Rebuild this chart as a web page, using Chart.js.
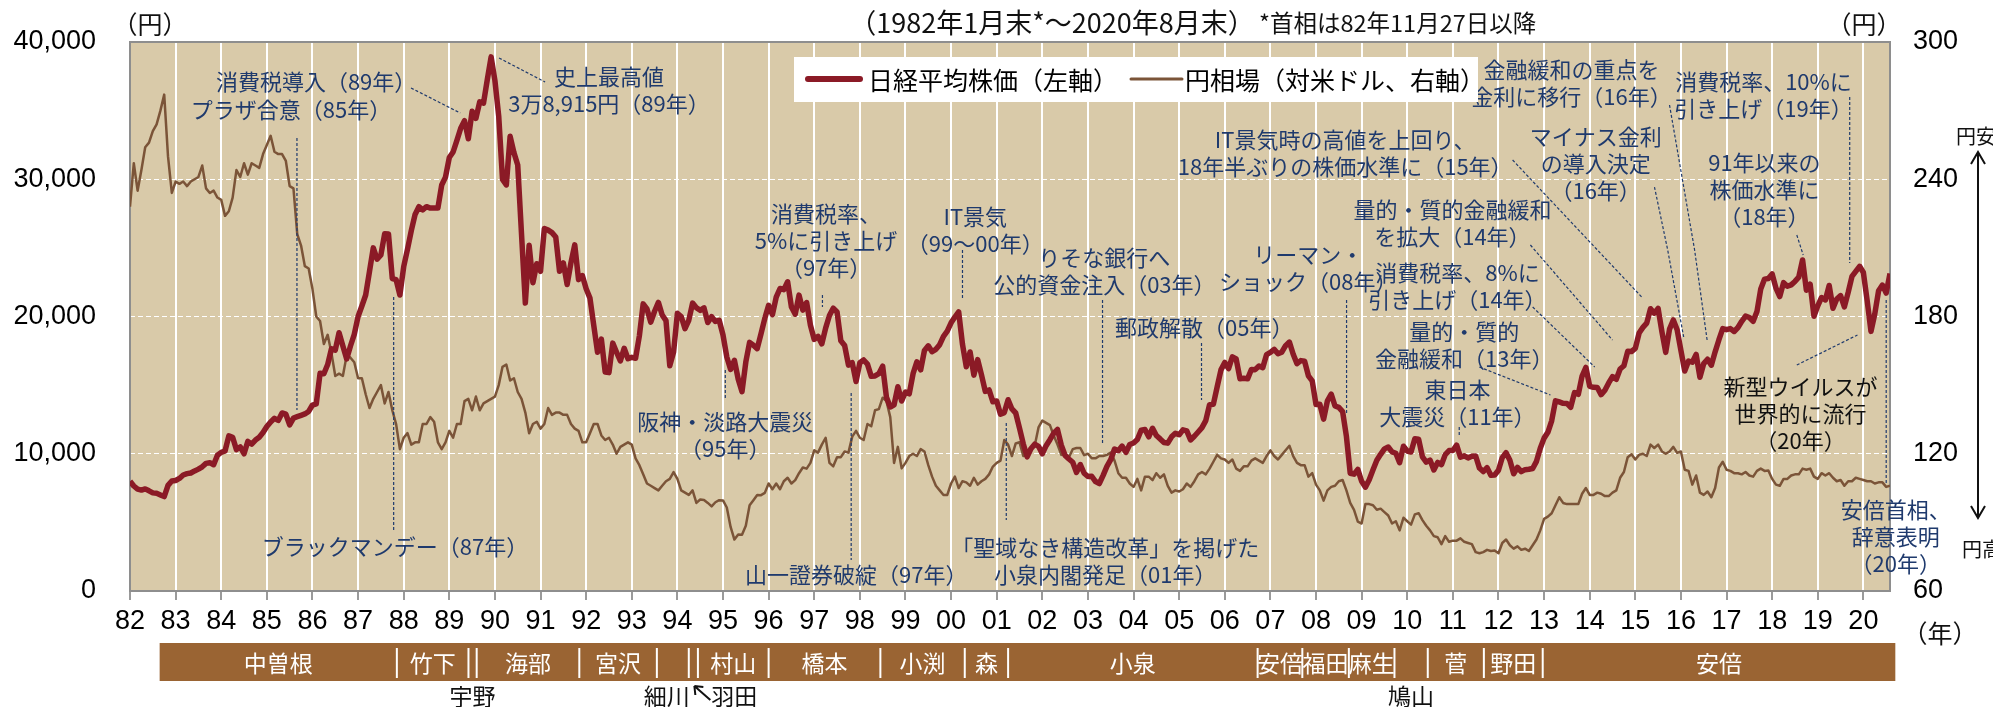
<!DOCTYPE html>
<html>
<head>
<meta charset="utf-8">
<script src="https://cdn.jsdelivr.net/npm/chart.js@4.4.0/dist/chart.umd.min.js"></script>
<style>
  html, body { margin: 0; padding: 0; background: #fff; }
  #wrap { width: 1993px; height: 707px; position: relative; }
</style>
</head>
<body>
<div id="wrap"><canvas id="grafico" width="1993" height="707"></canvas></div>
<script>
/* ── Dados (fim de mês, jan/1982 – ago/2020) ───────────────── */

const startYear = 1982;

// 日経平均株価（円）
const nikkei = [
  8000,7650,7420,7350,7440,7300,7150,7120,7000,6880,7700,8016,
  8050,8200,8450,8550,8600,8750,8880,9050,9300,9350,9200,9893,
  10100,10200,11300,11200,10300,10500,10000,10900,10700,11000,11200,11543,
  11990,12320,12580,12430,12970,12880,12100,12600,12700,12800,12900,13083,
  13550,13640,15860,15830,16500,17650,17550,18820,17850,16910,17850,18701,
  20000,20766,21566,23274,25000,24176,24488,26029,26010,22765,22687,21564,
  23622,24900,26260,27435,28000,27769,28000,27900,27900,27900,29579,30159,
  31581,31985,32838,33713,34266,32948,34954,34431,35636,35549,37268,38915,
  37188,34591,29980,29584,33130,31940,31035,25978,20984,25194,22454,23849,
  23293,26409,26292,26111,25790,23291,23900,22335,23916,25222,22687,22984,
  22023,21339,19346,17391,18348,15952,15910,18061,17399,16767,17683,16925,
  17024,16953,18591,20919,20552,19590,20380,21027,20106,19703,16408,17417,
  20229,19997,19112,19725,20974,20643,20449,20629,19564,19990,19641,19723,
  18650,17053,16140,16807,15437,14518,16678,18117,17913,17655,18744,19868,
  20813,20126,21407,22041,21956,22531,20693,20167,21556,20467,21020,19361,
  18330,18557,18003,19151,20069,20605,20331,18229,17888,16459,16636,15259,
  16628,16832,16527,15641,15671,15831,16379,14108,13406,13565,14883,13842,
  14499,14368,15837,16702,16112,17530,17862,17437,17606,17943,18558,18934,
  19540,19960,20337,17974,16332,17411,15727,16861,15747,14540,14649,13786,
  13843,12884,12999,13934,13262,12969,11861,10714,9775,10367,10697,10543,
  9997,10588,11025,11493,11764,10622,9877,9619,9383,8640,9216,8579,
  8340,8363,7973,7831,8425,9083,9563,10344,10219,10560,10101,10677,
  10784,11042,11715,11762,11236,11859,11326,11082,10824,10771,11231,11489,
  11388,11741,11669,11009,11277,11584,11900,12414,13574,13607,14873,16111,
  16650,16205,17060,16906,15467,15505,15457,16141,16128,16399,16274,17226,
  17383,17604,17288,17400,17876,18138,17249,16569,16786,16737,15681,15308,
  13592,13604,12526,13850,14338,13481,13377,13073,11260,8577,8512,8860,
  7994,7568,8110,8828,9523,9958,10357,10493,10133,10035,9346,10546,
  10198,10126,11090,11057,9769,9383,9537,8824,9369,9202,9937,10229,
  10238,10624,9755,9850,9694,9816,9833,8955,8700,8988,8435,8455,
  8803,9723,10084,9521,8543,9007,8695,8840,8870,8928,9446,10395,
  11139,11559,12398,13861,13775,13677,13668,13389,14456,14328,15662,16291,
  14915,14841,14828,14304,14632,15162,15621,15425,16174,16414,17460,17451,
  17674,18798,19207,19520,20563,20236,20585,18890,17388,19083,19747,19034,
  17518,16027,16759,16666,17235,15576,16569,16887,16450,17425,18308,19114,
  19041,19119,18909,19197,19651,20033,19925,19646,20356,22012,22725,22765,
  23098,22068,21454,22468,22202,22305,22554,22865,24120,21920,22351,20015,
  20773,21385,21206,22259,20601,21276,21522,20704,21756,22927,23294,23657,
  23205,21143,18917,20194,21878,22288,21710,23140
];

// 円相場（円／ドル）
const yen = [
  228,247,235,244,254,256,261,264,270,277,250,234,
  239,238,239,237,239,240,241,246,236,234,235,232,
  231,224,226,232,244,241,247,242,247,246,245,251,
  255,259,252,251,251,248,237,236,216,211,202,201,
  192,180,178,168,172,164,154,155,154,163,162,160,
  153,153,146,140,144,147,150,142,147,139,133,122,
  127,129,124,125,125,133,133,136,134,125,122,125,
  130,127,133,133,143,144,139,145,139,142,143,144,
  145,150,158,159,152,153,147,144,138,129,133,134,
  131,133,140,137,138,138,137,137,133,131,130,125,
  125,129,133,133,128,126,127,124,120,123,124,125,
  124,118,115,111,107,106,105,104,106,108,109,112,
  109,104,103,102,104,98.5,100,99.8,98.5,97,98.8,99.7,
  99.6,96.5,88,82.5,84.7,84.6,88.5,97.5,99.7,102,101.9,102.9,
  107,104.5,107,104.5,108,109.5,107,108.5,111.5,114,113.5,116,
  121.5,120.5,124,127,116,114.5,118.5,118.5,121,120.5,127.5,130,
  127,126,133,132,139,139.5,144.5,143,136,116,123,113.6,
  116,119,120,119,122,121,115,110,106,104,102,102,
  107,110,105,108,107.5,106,109.5,106.5,108,109,111,114.4,
  116,117,126,124,119,124.5,125,119,119.5,122,123.5,131.5,
  134.5,133.5,132.5,128,124,119.5,120,118.5,122,122.5,122.5,119.4,
  120,118,118,119,119,119.5,120.5,117,111.5,109.5,109.5,107,
  105.5,109,104,110,110,108.5,111.5,109.5,111,106,103,104,
  103.5,104.5,107,105.5,108,111,112,111,113.5,116.5,119.5,118,
  117.5,116,117.5,113.5,112.5,114.5,114.5,117,118,117,116,119,
  121.5,119,117.5,119.5,121.5,123.5,119,116,115,115,110,111.5,
  106.5,104,99.5,104,105.5,106,108,108.5,104,98.5,95.5,90.3,
  89.5,98,98,97.5,95.5,96,94.5,93,89.5,90.5,86.5,92,
  90.5,89,93.5,94,91,88.5,86.5,84,83.5,80.5,84,81.5,
  82,82,83,81.5,81,80.5,77,76.5,77,78,77.5,77.7,
  76.5,81,82.5,80,78.5,79.5,78,78.5,77.5,80,82.5,86.5,
  91.5,92.5,94,97.5,101,98.5,98,98,98,98,102.5,105,
  102,102,103,102.5,101.5,101.5,103,104,109.5,112,118.5,119.8,
  117.5,119.5,120,119,124,122.5,124,121,120,121,123,120.4,
  121,113,112.5,106.5,110.5,103,102,103.5,101,105,114,116.5,
  113,112.5,111.5,111.5,111,112,110.5,110,112.5,113.5,112.5,112.7,
  109,106.5,106,109,109,110.5,111,111,113.5,113,113.5,110,
  109,111.5,110.5,111.5,109.5,108,108.5,106,108,108,109.5,109,
  108.5,108,108,107,107.5,107.5,105.5,106
];

// Rótulos dos eixos
const yearLabels = ['82','83','84','85','86','87','88','89','90','91','92','93','94','95','96','97','98','99',
  '00','01','02','03','04','05','06','07','08','09','10','11','12','13','14','15','16','17','18','19','20'];
const leftTicks  = [0, 10000, 20000, 30000, 40000];
const rightTicks = [60, 120, 180, 240, 300];

// Primeiros-ministros (início de cada mandato, em anos decimais)
const pmNames  = ['中曽根','竹下','宇野','海部','宮沢','細川','羽田','村山','橋本','小渕','森',
                  '小泉','安倍','福田','麻生','鳩山','菅','野田','安倍'];
const pmStarts = [1982.65,1987.85,1989.42,1989.6,1991.85,1993.55,1994.25,1994.45,1996.0,1998.45,2000.3,
                  2001.25,2006.72,2007.7,2008.72,2009.72,2010.45,2011.68,2012.97];
const pmEnd    = 2020.7;
const pmBelow  = ['宇野','細川','羽田','鳩山'];

// Anotações: posição do texto em (ano, valor do eixo esquerdo), linhas-guia idem
const notes = [
  { lines: ['消費税導入（89年）'], x: 1986.08, y: 37086, lead: [[1988.16, 36649], [1989.24, 34827]] },
  { lines: ['プラザ合意（85年）'], x: 1985.53, y: 35046, lead: [[1985.66, 33006], [1985.66, 13188]] },
  { lines: ['史上最高値', '3万8,915円（89年）'], x: 1992.5, y: 37450, lead: [[1990.09, 38834], [1991.1, 37086]] },
  { lines: ['ブラックマンデー（87年）'], x: 1987.81, y: 3206, lead: [[1987.78, 21421], [1987.78, 4444]] },
  { lines: ['消費税率、', '5%に引き上げ', '（97年）'], x: 1997.26, y: 27468, lead: [[1997.18, 21567], [1997.18, 20692]] },
  { lines: ['IT景気', '（99～00年）'], x: 2000.53, y: 27249, lead: [[2000.25, 24845], [2000.25, 21348]] },
  { lines: ['りそな銀行へ', '公的資金注入（03年）'], x: 2003.36, y: 24262, lead: [[2003.32, 21202], [2003.32, 10783]] },
  { lines: ['リーマン・', 'ショック（08年）'], x: 2007.83, y: 24481, lead: [[2008.67, 21202], [2008.67, 12969]] },
  { lines: ['郵政解散（05年）'], x: 2005.55, y: 19162, lead: [[2005.49, 18069], [2005.49, 13916]] },
  { lines: ['阪神・淡路大震災', '（95年）'], x: 1995.05, y: 12313, lead: [[1995.05, 16102], [1995.05, 14062]] },
  { lines: ['山一證券破綻（97年）'], x: 1997.92, y: 1166, lead: [[1997.81, 14426], [1997.81, 2259]] },
  { lines: ['「聖域なき構造改革」を掲げた', '小泉内閣発足（01年）'], x: 2003.38, y: 3133, lead: [[2001.21, 12240], [2001.21, 5173]] },
  { lines: ['IT景気時の高値を上回り、', '18年半ぶりの株価水準に（15年）'], x: 2008.64, y: 32860, lead: [[2012.31, 31403], [2015.14, 21421]] },
  { lines: ['量的・質的金融緩和', 'を拡大（14年）'], x: 2010.99, y: 27759, lead: [[2012.7, 25210], [2014.5, 18288]] },
  { lines: ['消費税率、8%に', '引き上げ（14年）'], x: 2011.1, y: 23169, lead: [[2012.75, 20692], [2014.11, 16321]] },
  { lines: ['量的・質的', '金融緩和（13年）'], x: 2011.25, y: 18871, lead: [[2011.58, 16321], [2013.14, 14281]] },
  { lines: ['東日本', '大震災（11年）'], x: 2011.1, y: 14645, lead: [[2011.14, 11949], [2011.14, 11220]] },
  { lines: ['金融緩和の重点を', '金利に移行（16年）'], x: 2013.6, y: 37960, lead: [[2015.75, 35410], [2016.3, 24845], [2016.58, 18142]] },
  { lines: ['マイナス金利', 'の導入決定', '（16年）'], x: 2014.13, y: 33079, lead: [[2015.42, 29435], [2015.71, 24845], [2016.06, 18506]] },
  { lines: ['消費税率、10%に', '引き上げ（19年）'], x: 2017.81, y: 37086, lead: [[2019.7, 35993], [2019.7, 23898]] },
  { lines: ['91年以来の', '株価水準に', '（18年）'], x: 2017.83, y: 31184, lead: [[2018.54, 25938], [2018.68, 24481]] },
  { lines: ['新型ウイルスが', '世界的に流行', '（20年）'], x: 2018.62, y: 14863, lead: [[2018.54, 16466], [2019.87, 18652]], black: true },
  { lines: ['安倍首相、', '辞意表明', '（20年）'], x: 2020.71, y: 5902, lead: [[2020.5, 21202], [2020.5, 7869]] }
];

/* ── Estilos ───────────────────────────────────────────────── */

const NAVY   = '#1f3a6d';
const FONT_JP  = '"Liberation Sans Narrow", "Noto Sans CJK JP", sans-serif';
const FONT_NUM = '"Liberation Sans", Arial, sans-serif';

function texto(ctx, s, x, y, size, color, align = 'center', family = FONT_JP) {
  ctx.font = `${size}px ${family}`;
  ctx.fillStyle = color;
  ctx.textAlign = align;
  ctx.textBaseline = 'middle';
  ctx.fillText(s, x, y);
}

// Remove o recuo extra que o Chart.js reserva para os rótulos dos eixos verticais
function semRecuo(s) {
  s.paddingTop = 0;
  s.paddingBottom = 0;
}

/* ── Plugin de decoração (fundo, moldura, anotações, legenda, faixa de PMs) ── */

const decoracao = {
  id: 'decoracao',
  beforeDraw(chart) {
    const { ctx, chartArea: a } = chart;
    ctx.save();
    ctx.fillStyle = '#d9caa9';
    ctx.fillRect(a.left, a.top, a.right - a.left, a.bottom - a.top);
    ctx.restore();
  },
  beforeDatasetsDraw(chart) {
    const { ctx, chartArea: a } = chart;
    ctx.save();
    ctx.strokeStyle = '#8e8e8e';
    ctx.lineWidth = 2;
    ctx.strokeRect(a.left, a.top, a.right - a.left, a.bottom - a.top);
    ctx.restore();
  },
  afterDatasetsDraw(chart) {
    const { ctx } = chart;
    const xs = chart.scales.x, ys = chart.scales.y;
    ctx.save();
    notes.forEach(n => {
      // linha-guia tracejada
      ctx.strokeStyle = NAVY;
      ctx.lineWidth = 1.2;
      ctx.setLineDash([3, 2]);
      ctx.beginPath();
      n.lead.forEach(([lx, ly], i) => {
        const px = xs.getPixelForValue(lx), py = ys.getPixelForValue(ly);
        if (i === 0) ctx.moveTo(px, py); else ctx.lineTo(px, py);
      });
      ctx.stroke();
      ctx.setLineDash([]);
      const px = xs.getPixelForValue(n.x), py = ys.getPixelForValue(n.y);
      n.lines.forEach((l, i) => texto(ctx, l, px, py + i * 27, 22, n.black ? '#111' : NAVY));
    });
    ctx.restore();
  },
  afterDraw(chart) {
    const { ctx, chartArea: a } = chart;
    const xs = chart.scales.x;
    ctx.save();

    // títulos e unidades
    texto(ctx, '（1982年1月末*～2020年8月末）', 1052, 23, 27, '#111');
    texto(ctx, '*首相は82年11月27日以降', 1259, 23, 23.5, '#111', 'left');
    texto(ctx, '（円）', 150, 24, 25, '#111');
    texto(ctx, '（円）', 1864, 24, 25, '#111');
    texto(ctx, '（年）', 1940, 633, 25, '#111');

    // legenda
    ctx.fillStyle = '#fff';
    ctx.fillRect(794, 57, 684, 45);
    ctx.lineCap = 'round';
    ctx.strokeStyle = '#8b1a26'; ctx.lineWidth = 6;
    ctx.beginPath(); ctx.moveTo(808, 79); ctx.lineTo(860, 79); ctx.stroke();
    ctx.strokeStyle = '#7b5438'; ctx.lineWidth = 3;
    ctx.beginPath(); ctx.moveTo(1131, 79); ctx.lineTo(1182, 79); ctx.stroke();
    ctx.lineCap = 'butt';
    texto(ctx, '日経平均株価（左軸）', 868, 80, 25, '#000', 'left', '"Noto Sans CJK JP", sans-serif');
    texto(ctx, '円相場（対米ドル、右軸）', 1185, 80, 25, '#000', 'left', '"Noto Sans CJK JP", sans-serif');

    // seta 円安 / 円高
    ctx.strokeStyle = '#111'; ctx.lineWidth = 2;
    ctx.beginPath();
    ctx.moveTo(1978, 152); ctx.lineTo(1978, 518);
    ctx.moveTo(1971, 164); ctx.lineTo(1978, 152); ctx.lineTo(1985, 164);
    ctx.moveTo(1971, 506); ctx.lineTo(1978, 518); ctx.lineTo(1985, 506);
    ctx.stroke();
    texto(ctx, '円安', 1976, 136, 20, '#111', 'center', '"Noto Sans CJK JP", sans-serif');
    texto(ctx, '円高', 1982, 549, 20, '#111', 'center', '"Noto Sans CJK JP", sans-serif');

    // faixa dos primeiros-ministros
    const top = a.bottom + 52, h = 38;
    const x0 = xs.getPixelForValue(pmStarts[0]);
    const x1 = xs.getPixelForValue(pmEnd);
    ctx.fillStyle = '#9a6433';
    ctx.fillRect(x0, top, x1 - x0, h);
    ctx.strokeStyle = '#fff'; ctx.lineWidth = 2;
    pmStarts.forEach((s, i) => {
      if (i === 0) return;
      const px = xs.getPixelForValue(s);
      ctx.beginPath(); ctx.moveTo(px, top + 5); ctx.lineTo(px, top + h - 3); ctx.stroke();
    });
    pmNames.forEach((nome, i) => {
      const s = xs.getPixelForValue(pmStarts[i]);
      const e = xs.getPixelForValue(i + 1 < pmStarts.length ? pmStarts[i + 1] : pmEnd);
      const cx = (s + e) / 2;
      if (pmBelow.includes(nome)) {
        let dx = 0;
        if (nome === '細川') dx = -6;
        if (nome === '羽田') dx = 41;
        texto(ctx, nome, cx + dx, 696, 23, '#111', 'center', '"Noto Sans CJK JP", sans-serif');
        if (nome === '羽田') {
          ctx.strokeStyle = '#111'; ctx.lineWidth = 2;
          ctx.beginPath();
          ctx.moveTo(cx + 17, 700); ctx.lineTo(cx + 1, 686);
          ctx.moveTo(cx + 1, 686); ctx.lineTo(cx + 10, 687);
          ctx.moveTo(cx + 1, 686); ctx.lineTo(cx + 2, 695);
          ctx.stroke();
        }
      } else {
        texto(ctx, nome, cx, top + h / 2 + 1, 23, '#fff', 'center', '"Noto Sans CJK JP", sans-serif');
      }
    });
    ctx.restore();
  }
};

/* ── Gráfico ───────────────────────────────────────────────── */

const pontosNikkei = nikkei.map((v, i) => ({ x: startYear + i / 12, y: v }));
const pontosYen    = yen.map((v, i) => ({ x: startYear + i / 12, y: v }));

new Chart(document.getElementById('grafico').getContext('2d'), {
  type: 'line',
  data: {
    datasets: [
      {
        label: '日経平均株価（左軸）',
        data: pontosNikkei,
        yAxisID: 'y',
        borderColor: '#8b1a26',
        borderWidth: 5.5,
        borderJoinStyle: 'round',
        pointRadius: 0,
        tension: 0,
        order: 0,
      },
      {
        label: '円相場（対米ドル、右軸）',
        data: pontosYen,
        yAxisID: 'y2',
        borderColor: '#7b5438',
        borderWidth: 2.5,
        borderJoinStyle: 'round',
        pointRadius: 0,
        tension: 0,
        order: 1,
      },
    ],
  },
  options: {
    responsive: false,
    devicePixelRatio: 1,
    animation: false,
    layout: { padding: { top: 42, left: 0, right: 0, bottom: 0 } },
    plugins: { legend: { display: false }, tooltip: { enabled: false } },
    scales: {
      x: {
        type: 'linear',
        min: startYear,
        max: 2020 + 7 / 12,
        afterFit: s => { s.height = 116; s.paddingLeft = 0; s.paddingRight = 0; },
        afterBuildTicks: s => { s.ticks = yearLabels.map((_, i) => ({ value: startYear + i })); },
        grid: { color: '#ffffff', lineWidth: 2, tickColor: '#9a9a9a', tickLength: 9, drawTicks: true },
        border: { display: false },
        ticks: {
          autoSkip: false,
          maxRotation: 0,
          padding: 5,
          color: '#000',
          font: { family: FONT_NUM, size: 27 },
          callback: v => yearLabels[Math.round(v - startYear)],
        },
      },
      y: {
        position: 'left',
        min: 0,
        max: 40000,
        afterFit: s => { s.width = 130; semRecuo(s); },
        afterBuildTicks: s => { s.ticks = leftTicks.map(v => ({ value: v })); },
        grid: {
          drawTicks: false,
          lineWidth: 1,
          color: c => (c.tick && (c.tick.value === 0 || c.tick.value === 40000)) ? 'rgba(0,0,0,0)' : '#ffffff',
        },
        border: { display: false, dash: [5, 3] },
        ticks: {
          padding: 34,
          color: '#000',
          font: { family: FONT_NUM, size: 27 },
          callback: v => v.toLocaleString('en-US'),
        },
      },
      y2: {
        position: 'right',
        min: 60,
        max: 300,
        afterFit: s => { s.width = 103; semRecuo(s); },
        afterBuildTicks: s => { s.ticks = rightTicks.map(v => ({ value: v })); },
        grid: { display: false, drawTicks: false },
        border: { display: false },
        ticks: {
          padding: 23,
          color: '#000',
          font: { family: FONT_NUM, size: 27 },
        },
      },
    },
  },
  plugins: [decoracao],
});
</script>
</body>
</html>
